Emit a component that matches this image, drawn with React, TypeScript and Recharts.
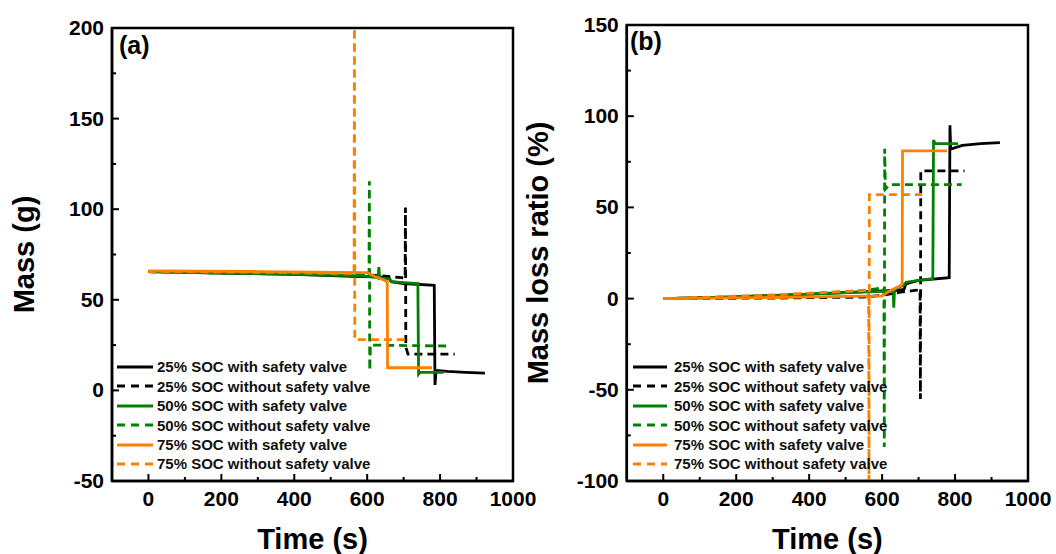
import React from "react";
import { LineChart, Line, XAxis, YAxis, ReferenceArea, Legend } from "recharts";

type Pt = [number, number];

// (a) mass (g) vs time (s)
const mass25Valve: Pt[] = [[0, 65.5], [200, 64.8], [400, 64], [560, 63], [640, 62.5], [660, 62], [666, 60], [700, 59], [784, 58], [786, 3], [789, 11], [820, 10.5], [870, 10], [923, 9.5]];
const mass25NoValve: Pt[] = [[0, 65.5], [300, 65], [550, 64.5], [600, 63.8], [650, 63], [690, 62.3], [704, 62], [705, 101], [706, 24], [712, 20], [840, 20]];
const mass50Valve: Pt[] = [[0, 65.5], [200, 64.8], [400, 64], [580, 63.2], [625, 62.5], [630, 62], [632, 68], [634, 62], [660, 61.5], [666, 60], [700, 59.5], [739, 59], [741, 9], [745, 10], [810, 10]];
const mass50NoValve: Pt[] = [[0, 65.5], [300, 65], [560, 64.2], [600, 63.5], [605, 63], [606, 115.4], [607, 11], [609, 25], [822, 24.5]];
const mass75Valve: Pt[] = [[0, 66], [300, 65.6], [600, 65], [620, 63], [650, 60.5], [655, 60], [656, 12.5], [778, 12.5]];
const mass75NoValve: Pt[] = [[0, 65.5], [300, 65.2], [560, 64.5], [564, 64], [565, 200], [566, 28], [715, 28]];

// (b) mass loss ratio (%) vs time (s)
const ratio25Valve: Pt[] = [[0, 0], [200, 1], [400, 2.5], [600, 4.2], [640, 4.5], [660, 5], [665, 8], [700, 10], [784, 11.5], [786, 95], [788, 82], [820, 84], [870, 85], [923, 85.5]];
const ratio25NoValve: Pt[] = [[0, 0], [300, 0.3], [550, 0.8], [600, 1.8], [650, 3.5], [690, 4.5], [704, 4.8], [705, -55], [706, 70], [826, 70]];
const ratio50Valve: Pt[] = [[0, 0], [200, 1], [400, 2.5], [600, 4], [625, 4.5], [630, 5], [632, -5], [634, 5], [660, 7.5], [666, 9], [700, 10], [739, 11], [741, 87], [745, 85], [808, 85]];
const ratio50NoValve: Pt[] = [[0, 0], [300, 1.5], [560, 4.5], [600, 6], [605, 6], [606, -81.4], [607, 82.2], [609, 60], [620, 62.5], [818, 62.5]];
const ratio75Valve: Pt[] = [[0, 0], [300, 0.6], [600, 1.5], [620, 4], [650, 7], [655, 8], [656, 81], [778, 81]];
const ratio75NoValve: Pt[] = [[0, 0], [300, 2], [560, 4.5], [563, 4.5], [564, -100], [565, 57], [710, 57]];

const seriesNames = [
  "25% SOC with safety valve",
  "25% SOC without safety valve",
  "50% SOC with safety valve",
  "50% SOC without safety valve",
  "75% SOC with safety valve",
  "75% SOC without safety valve",
];
const seriesColors = ["#000000", "#000000", "#008000", "#008000", "#ff8000", "#ff8000"];
const seriesDashed = [false, true, false, true, false, true];

const timeTicks = [0, 100, 200, 300, 400, 500, 600, 700, 800, 900, 1000];
const timeLabels = [0, 200, 400, 600, 800, 1000];
const massTicks = [-50, -25, 0, 25, 50, 75, 100, 125, 150, 175, 200];
const massLabels = [-50, 0, 50, 100, 150, 200];
const ratioTicks = [-100, -75, -50, -25, 0, 25, 50, 75, 100, 125, 150];
const ratioLabels = [-100, -50, 0, 50, 100, 150];

const FONT = "'Liberation Sans', Arial, Helvetica, sans-serif";

const toPoints = (pts: Pt[]) => pts.map(([x, y]) => ({ x, y }));

const bottomTick = (labels: number[]) => (props: any) => {
  const { x, y, payload } = props;
  const major = labels.includes(payload.value);
  return (
    <g>
      <line x1={x} y1={y} x2={x} y2={y - (major ? 7 : 4)} stroke="#000" strokeWidth={2} />
      {major && (
        <text x={x} y={y + 25} textAnchor="middle" fontSize={21} fontWeight="bold" fontFamily={FONT} fill="#000">
          {payload.value}
        </text>
      )}
    </g>
  );
};

const leftTick = (labels: number[]) => (props: any) => {
  const { x, y, payload } = props;
  const major = labels.includes(payload.value);
  return (
    <g>
      <line x1={x} y1={y} x2={x + (major ? 7 : 4)} y2={y} stroke="#000" strokeWidth={2} />
      {major && (
        <text x={x - 8} y={y + 7} textAnchor="end" fontSize={21} fontWeight="bold" fontFamily={FONT} fill="#000">
          {payload.value}
        </text>
      )}
    </g>
  );
};

function LegendBox({ lineLen, gap }: { lineLen: number; gap: number }) {
  return (
    <div style={{ fontFamily: FONT, fontSize: 15, fontWeight: "bold", color: "#111" }}>
      {seriesNames.map((name, i) => (
        <div key={name} style={{ height: 19.4, display: "flex", alignItems: "center", whiteSpace: "nowrap" }}>
          <svg width={lineLen} height={6} style={{ marginRight: gap }}>
            <line
              x1={0}
              y1={3}
              x2={lineLen}
              y2={3}
              stroke={seriesColors[i]}
              strokeWidth={2.8}
              strokeDasharray={seriesDashed[i] ? "8 6" : undefined}
            />
          </svg>
          <span>{name}</span>
        </div>
      ))}
    </div>
  );
}

const titleStyle = { fontSize: 29, fontWeight: "bold", fontFamily: FONT, fill: "#000" };

function Panel({
  width,
  margin,
  yWidth,
  yDomain,
  yTicks,
  yLabels,
  yTitle,
  yTitleOffset,
  series,
  legendLeft,
  legendLine,
  legendGap,
}: any) {
  return (
    <LineChart width={width} height={554} margin={margin}>
      <XAxis
        type="number"
        dataKey="x"
        domain={[-100, 1000]}
        ticks={timeTicks}
        interval={0}
        allowDataOverflow
        height={30}
        tickSize={0}
        tickMargin={0}
        tickLine={false}
        axisLine={{ stroke: "#000", strokeWidth: 2.5 }}
        tick={bottomTick(timeLabels)}
        label={{ value: "Time (s)", position: "bottom", offset: 17, style: titleStyle }}
      />
      <YAxis
        type="number"
        domain={yDomain}
        ticks={yTicks}
        interval={0}
        allowDataOverflow
        width={yWidth}
        tickSize={0}
        tickMargin={0}
        tickLine={false}
        axisLine={{ stroke: "#000", strokeWidth: 2.5 }}
        tick={leftTick(yLabels)}
        label={{
          value: yTitle,
          angle: -90,
          position: "insideLeft",
          offset: yTitleOffset,
          style: { ...titleStyle, textAnchor: "middle" },
        }}
      />
      <ReferenceArea x1={-100} x2={1000} y1={yDomain[0]} y2={yDomain[1]} fill="none" stroke="#000" strokeWidth={2.5} />
      {series.map((pts: Pt[], i: number) => (
        <Line
          key={seriesNames[i]}
          name={seriesNames[i]}
          data={toPoints(pts)}
          dataKey="y"
          type="linear"
          stroke={seriesColors[i]}
          strokeWidth={2.8}
          strokeDasharray={seriesDashed[i] ? "8 5" : undefined}
          dot={false}
          isAnimationActive={false}
        />
      ))}
      <Legend
        layout="vertical"
        align="center"
        verticalAlign="middle"
        wrapperStyle={{ left: legendLeft, top: 357.3, width: 260, height: 120 }}
        content={() => <LegendBox lineLen={legendLine} gap={legendGap} />}
      />
    </LineChart>
  );
}

export default function App() {
  return (
    <div style={{ position: "absolute", left: 0, top: 0, width: 1056, height: 554, background: "#fff" }}>
      <div style={{ position: "absolute", left: 0, top: 0 }}>
        <Panel
          width={560}
          margin={{ top: 28, right: 47, bottom: 43, left: 12 }}
          yWidth={100}
          yDomain={[-50, 200]}
          yTicks={massTicks}
          yLabels={massLabels}
          yTitle="Mass (g)"
          yTitleOffset={12}
          series={[mass25Valve, mass25NoValve, mass50Valve, mass50NoValve, mass75Valve, mass75NoValve]}
          legendLeft={117}
          legendLine={36}
          legendGap={4}
        />
      </div>
      <div style={{ position: "absolute", left: 480, top: 0 }}>
        <Panel
          width={576}
          margin={{ top: 25, right: 28, bottom: 43, left: 16.8 }}
          yWidth={130}
          yDomain={[-100, 150]}
          yTicks={ratioTicks}
          yLabels={ratioLabels}
          yTitle="Mass loss ratio (%)"
          yTitleOffset={41}
          series={[ratio25Valve, ratio25NoValve, ratio50Valve, ratio50NoValve, ratio75Valve, ratio75NoValve]}
          legendLeft={153}
          legendLine={34}
          legendGap={7}
        />
      </div>
      <svg width={1056} height={554} style={{ position: "absolute", left: 0, top: 0, pointerEvents: "none" }}>
        <text x={119} y={54} fontSize={25} fontWeight="bold" fontFamily={FONT} fill="#000">(a)</text>
        <text x={630} y={50} fontSize={25} fontWeight="bold" fontFamily={FONT} fill="#000">(b)</text>
      </svg>
    </div>
  );
}
